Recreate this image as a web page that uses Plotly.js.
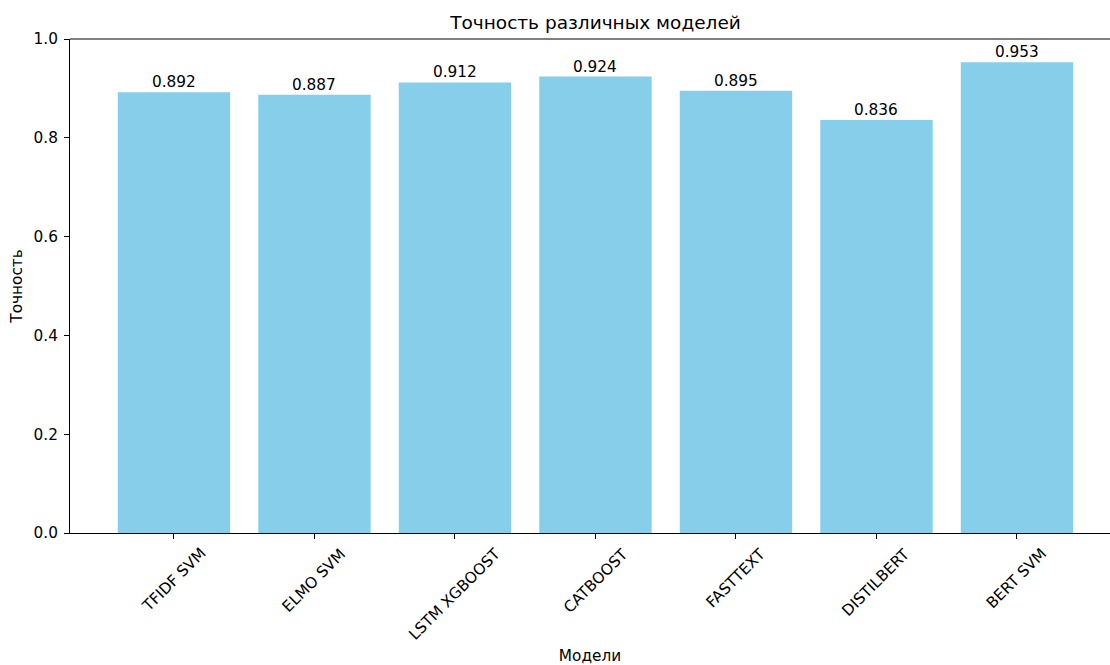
<!DOCTYPE html>
<html>
<head>
<meta charset="utf-8">
<script src="https://cdn.plot.ly/plotly-3.0.1.min.js"></script>
<style>html,body{margin:0;padding:0;background:#fff;}#chart{width:1110px;height:665px;}</style>
</head>
<body>
<div id="chart"></div>
<script>
const models = ["TFIDF SVM", "ELMO SVM", "LSTM XGBOOST", "CATBOOST", "FASTTEXT", "DISTILBERT", "BERT SVM"];
const accuracy = [0.892, 0.887, 0.912, 0.924, 0.895, 0.836, 0.953];
const yTicks = [0.0, 0.2, 0.4, 0.6, 0.8, 1.0];
const chartTitle = "Точность различных моделей";
const xTitle = "Модели";
const yTitle = "Точность";

const FONT = "DejaVu Sans, Liberation Sans, sans-serif";
const FS = 15.3;

const trace = {
  type: "bar",
  x: models,
  y: accuracy,
  width: 0.8,
  marker: {color: "#87CEEB", line: {width: 0}},
  cliponaxis: false,
  hoverinfo: "x+y"
};

const valueAnnotations = models.map((m, i) => ({
  x: m, xref: "x",
  y: accuracy[i], yref: "y",
  yshift: -1,
  xanchor: "center", yanchor: "bottom",
  showarrow: false,
  text: accuracy[i].toFixed(3),
  font: {family: FONT, size: FS, color: "#000"}
}));

const tickAnnotations = models.map(m => ({
  x: m, xref: "x",
  y: 0, yref: "paper",
  yshift: -9,
  xanchor: "center", yanchor: "top",
  textangle: -45,
  showarrow: false,
  text: m,
  font: {family: FONT, size: FS, color: "#000"}
}));

const layout = {
  width: 1110, height: 665,
  margin: {l: 70, r: 0, t: 39, b: 132, pad: 0},
  paper_bgcolor: "#fff", plot_bgcolor: "#fff",
  font: {family: FONT, size: FS, color: "#000"},
  showlegend: false,
  title: {
    text: chartTitle,
    font: {family: FONT, size: 18.5, color: "#000"},
    xref: "paper", x: 0.5053, xanchor: "center",
    yref: "container", y: 1 - 23/665, yanchor: "middle"
  },
  xaxis: {
    type: "category",
    range: [-0.74, 6.662],
    showgrid: false, zeroline: false,
    showline: true, linecolor: "#000", linewidth: 1,
    ticks: "outside", ticklen: 5, tickcolor: "#000", tickwidth: 1,
    showticklabels: false,
    title: {text: xTitle, font: {family: FONT, size: FS, color: "#000"}, standoff: 120},
    automargin: false
  },
  yaxis: {
    range: [0, 1.0],
    tickvals: yTicks,
    tickformat: ".1f",
    showgrid: false, zeroline: false,
    showline: true, linecolor: "#000", linewidth: 1,
    ticks: "outside", ticklen: 5, tickcolor: "#000", tickwidth: 1,
    ticklabelstandoff: 3,
    tickfont: {family: FONT, size: FS, color: "#000"},
    title: {text: yTitle, font: {family: FONT, size: FS, color: "#000"}, standoff: 7},
    automargin: false
  },
  shapes: [{
    type: "line", xref: "paper", yref: "paper",
    x0: 0, x1: 1, y0: 1, y1: 1,
    line: {color: "#000", width: 1}
  }],
  annotations: valueAnnotations.concat(tickAnnotations),
  bargap: 0.2
};

Plotly.newPlot("chart", [trace], layout, {displayModeBar: false, staticPlot: true});
</script>
</body>
</html>
